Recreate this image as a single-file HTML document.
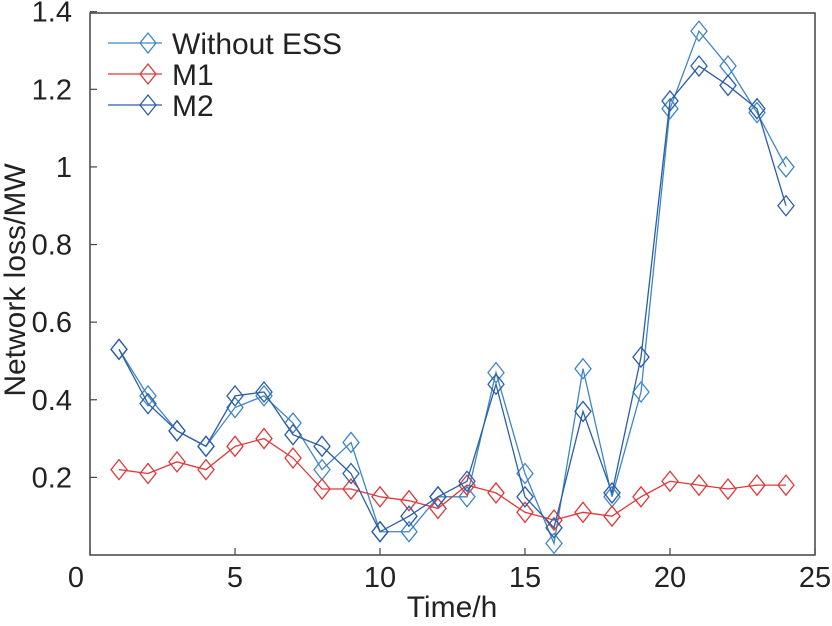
<!DOCTYPE html>
<html><head><meta charset="utf-8"><style>
html,body{margin:0;padding:0;background:#fff;}
svg{display:block;font-family:"Liberation Sans",Arial,sans-serif;}
</style></head><body>
<svg id="chart" width="832" height="626">
<g id="axes"></g><g id="series"></g><g id="legend"></g>
</svg>
<script>
const hours=[1,2,3,4,5,6,7,8,9,10,11,12,13,14,15,16,17,18,19,20,21,22,23,24];
const withoutESS=[0.53,0.41,0.32,0.28,0.38,0.41,0.34,0.22,0.29,0.06,0.06,0.15,0.15,0.47,0.21,0.03,0.48,0.15,0.42,1.15,1.35,1.26,1.14,1.00];
const m1=[0.22,0.21,0.24,0.22,0.28,0.30,0.25,0.17,0.17,0.15,0.14,0.12,0.18,0.16,0.11,0.09,0.11,0.10,0.15,0.19,0.18,0.17,0.18,0.18];
const m2=[0.53,0.39,0.32,0.28,0.41,0.42,0.31,0.28,0.21,0.06,0.10,0.15,0.19,0.44,0.15,0.07,0.37,0.16,0.51,1.17,1.26,1.21,1.15,0.90];
const xTicks=[0,5,10,15,20,25];
const yTicks=[0.2,0.4,0.6,0.8,1,1.2,1.4];
const seriesNames=["Without ESS","M1","M2"];
const seriesColors=["#3f86c6","#e0383a","#2c5ea6"];
const L=90,R=815,T=13,B=555;
const xs=v=>L+(v-0)/(25-0)*(R-L);
const ys=v=>B-(v-0)/(1.4-0)*(B-T+1.3);
const NS="http://www.w3.org/2000/svg";
function mk(tag,attrs,parent){const e=document.createElementNS(NS,tag);for(const k in attrs)e.setAttribute(k,attrs[k]);parent.appendChild(e);return e;}
const ax=document.getElementById('axes');
let f=mk('rect',{x:L,y:T,width:R-L,height:B-T,fill:'none',stroke:'#444','stroke-width':1.5},ax);


xTicks.forEach(t=>{
 let l=mk('line',{x1:xs(t),x2:xs(t),y1:B,y2:B-7,stroke:'#444','stroke-width':1.2},ax);
 
 
 let tx=mk('text',{x:xs(t)-(t===0?14:0),y:B+32,'font-size':29,'text-anchor':'middle',fill:'#222'},ax);
 tx.textContent=t;
 
 
});
yTicks.forEach(t=>{
 let l=mk('line',{x1:L,x2:L+7,y1:ys(t),y2:ys(t),stroke:'#444','stroke-width':1.2},ax);
 
 
 let tx=mk('text',{x:L-18,y:ys(t)+10,'font-size':29,'text-anchor':'end',fill:'#222'},ax);
 tx.textContent=t;
 
 
});
let xt=mk('text',{x:452,y:617,'font-size':30,'text-anchor':'middle',fill:'#222'},ax);
xt.textContent='Time/h';


let yt=mk('text',{x:0,y:0,'font-size':30,'text-anchor':'middle',fill:'#222',transform:'translate(25,280) rotate(-90)'},ax);
yt.textContent='Network loss/MW';


function diamond(cx,cy,c,parent){
 const r=10;
 let p=mk('polygon',{points:`${cx},${cy-r} ${cx+r*0.8},${cy} ${cx},${cy+r} ${cx-r*0.8},${cy}`,fill:'none',stroke:c,'stroke-width':1.3},parent);
 return p;
}
const sg=document.getElementById('series');
[withoutESS,m1,m2].forEach((data,i)=>{
 const g=mk('g',{},sg);
 
 
 const pl=mk('polyline',{points:data.map((v,j)=>xs(hours[j])+','+ys(v)).join(' '),fill:'none',stroke:seriesColors[i],'stroke-width':1.3},g);
 
 
 data.forEach((v,j)=>{
  const d=diamond(xs(hours[j]),ys(v),seriesColors[i],g);
  
  
 });
});
const lg=document.getElementById('legend');
seriesNames.forEach((n,i)=>{
 const y=43+i*31;
 const g=mk('g',{},lg);
 
 
 mk('line',{x1:108,x2:162,y1:y,y2:y,stroke:seriesColors[i],'stroke-width':1.3},g);
 diamond(148,y,seriesColors[i],g);
 const t=mk('text',{x:172,y:y+11,'font-size':30,fill:'#222'},g);
 t.textContent=n;
});
</script>
</body></html>
